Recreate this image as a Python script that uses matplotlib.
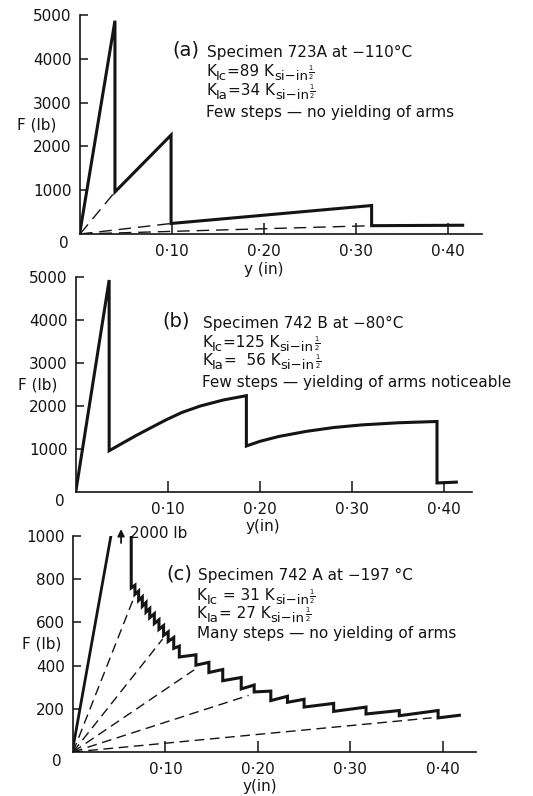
import matplotlib
matplotlib.use("agg")
import matplotlib.pyplot as plt

plt.rcParams['font.family'] = ['DejaVu Sans']
plt.rcParams['mathtext.fontset'] = 'dejavusans'
plt.rcParams['mathtext.default'] = 'regular'

W, H = 533, 796
INK = "#141414"

# (a) Specimen 723A at -110 C : load F (lb) against displacement y (in)
a_y = [0.0, 0.038, 0.038, 0.099, 0.099, 0.317, 0.317, 0.416]
a_F = [50, 4870, 960, 2260, 240, 650, 190, 200]
a_ray_y = [0.038, 0.099, 0.317]
a_ray_F = [960, 240, 190]
a_yticks = [1000, 2000, 3000, 4000, 5000]

# (b) Specimen 742B at -80 C
b_y = [0.0, 0.036, 0.036, 0.050, 0.065, 0.080, 0.098, 0.115, 0.135, 0.160, 0.185,
       0.185, 0.200, 0.220, 0.250, 0.280, 0.310, 0.350, 0.392, 0.392, 0.413]
b_F = [40, 4930, 960, 1130, 1310, 1480, 1680, 1850, 2000, 2140, 2240,
       1070, 1180, 1290, 1410, 1500, 1560, 1610, 1640, 210, 230]
b_yticks = [1000, 2000, 3000, 4000, 5000]

# (c) Specimen 742A at -197 C : first peak is off scale (2000 lb)
c_load_y = [0.0, 0.041]
c_load_F = [20, 1000]
c_drop_y = [0.063, 0.067, 0.071, 0.075, 0.079, 0.083, 0.088, 0.093, 0.098,
            0.103, 0.109, 0.115, 0.133, 0.147, 0.162, 0.182, 0.196, 0.214,
            0.232, 0.250, 0.282, 0.317, 0.353, 0.395]
c_peak_F = [1000, 772, 745, 718, 692, 664, 640, 612, 585,
            556, 530, 490, 450, 415, 382, 345, 310, 282,
            258, 244, 225, 208, 192, 192]
c_after_F = [760, 730, 702, 675, 648, 622, 595, 568, 540,
             512, 480, 440, 402, 368, 330, 292, 278, 238,
             230, 208, 188, 176, 168, 158]
c_end_y, c_end_F = 0.418, 170
c_ray_y = [0.065, 0.097, 0.131, 0.190, 0.388]
c_ray_F = [705, 523, 380, 262, 158]
c_yticks = [200, 400, 600, 800, 1000]

xticks = [0.10, 0.20, 0.30, 0.40]
xticklabels = ["0·10", "0·20", "0·30", "0·40"]

FS = 11
HALF = r"$\frac{1}{2}$"


def px_rect(left, top, right, bottom):
    return [left / W, 1 - bottom / H, (right - left) / W, (bottom - top) / H]


def fig_text(fig, x, y, s, size=FS):
    # x, y: left edge and baseline in pixels from the top-left corner
    return fig.text(x / W, 1 - y / H, s, ha="left", va="baseline", fontsize=size, color=INK)


def rich_text(fig, x, y, pieces):
    # pieces: (text, size, baseline shift in px); placed one after another
    r = fig.canvas.get_renderer()
    for s, size, dy in pieces:
        t = fig_text(fig, x, y + dy, s, size)
        x += t.get_window_extent(r).width


def k_line(fig, x, y, sub, value):
    rich_text(fig, x, y, [("K", FS, 0), (sub, 9.5, 4), (value + " K", FS, 0),
                          ("si−in", 9.5, 4), (HALF, 7, 0)])


def style_axes(ax, xmax, ymax, yticks, xlabel, ylabel_x, xlabel_x):
    ax.set_xlim(0, xmax)
    ax.set_ylim(0, ymax)
    for s in ["top", "right"]:
        ax.spines[s].set_visible(False)
    for s in ["bottom", "left"]:
        ax.spines[s].set_linewidth(1.2)
        ax.spines[s].set_color(INK)
    ax.set_xticks(xticks)
    ax.set_xticklabels(xticklabels)
    ax.set_yticks(yticks)
    ax.tick_params(axis="x", direction="in", length=8, width=1.1, pad=7,
                   labelsize=FS, colors=INK)
    ax.tick_params(axis="y", direction="in", length=6, width=1.1, pad=6,
                   labelsize=FS, colors=INK)
    ax.set_ylabel("F (lb)", rotation=0, ha="center", va="center", fontsize=FS, color=INK)
    ax.yaxis.set_label_coords(ylabel_x, 0.5)
    ax.set_xlabel(xlabel, va="center", fontsize=FS, color=INK)
    ax.xaxis.set_label_coords(xlabel_x, -0.16)
    ax.annotate("0", (0, 0), xycoords="axes fraction", xytext=(-12, -7),
                textcoords="offset points", ha="center", va="center",
                fontsize=FS, color=INK, annotation_clip=False)
    ax.patch.set_visible(False)


def sawtooth(drop_y, peak_F, after_F, end_y, end_F):
    xs, ys = [], []
    for x, p, a in zip(drop_y, peak_F, after_F):
        xs += [x, x]
        ys += [p, a]
    xs.append(end_y)
    ys.append(end_F)
    return xs, ys


fig = plt.figure(figsize=(W / 100, H / 100), dpi=100)
dash = (0, (9, 5))

# ---- (a)
ax = fig.add_axes(px_rect(80, 15, 482, 234))
ax.plot(a_y, a_F, color=INK, lw=2.2, solid_joinstyle="miter")
for x, f in zip(a_ray_y, a_ray_F):
    ax.plot([0, x], [0, f], color=INK, lw=1.0, ls=dash)
style_axes(ax, 0.437, 5000, a_yticks, "y (in)", -0.107, 0.458)
fig_text(fig, 172, 56, "(a)", size=14)
fig_text(fig, 207, 57, "Specimen 723A at −110°C")
k_line(fig, 206, 76, "Ic", "=89")
k_line(fig, 206, 95, "Ia", "=34")
fig_text(fig, 206, 117, "Few steps — no yielding of arms")

# ---- (b)
ax = fig.add_axes(px_rect(76, 277, 472, 492))
ax.plot(b_y, b_F, color=INK, lw=2.2, solid_joinstyle="miter")
style_axes(ax, 0.430, 5000, b_yticks, "y(in)", -0.098, 0.472)
fig_text(fig, 162, 326, "(b)", size=14)
fig_text(fig, 203, 328, "Specimen 742 B at −80°C")
k_line(fig, 202, 347, "Ic", "=125")
k_line(fig, 202, 365, "Ia", "=  56")
fig_text(fig, 202, 387, "Few steps — yielding of arms noticeable")

# ---- (c)
ax = fig.add_axes(px_rect(73, 536, 476, 752))
ax.plot(c_load_y, c_load_F, color=INK, lw=2.0)
sx, sy = sawtooth(c_drop_y, c_peak_F, c_after_F, c_end_y, c_end_F)
ax.plot(sx, sy, color=INK, lw=2.2, solid_joinstyle="miter")
for x, f in zip(c_ray_y, c_ray_F):
    ax.plot([0, x], [0, f], color=INK, lw=1.0, ls=(0, (7, 4)))
ax.annotate("", xy=(0.052, 1045), xytext=(0.052, 955),
            arrowprops=dict(arrowstyle="-|>", color=INK, lw=1.3, mutation_scale=10),
            annotation_clip=False)
ax.text(0.062, 1010, "2000 lb", ha="left", va="center", fontsize=FS, color=INK,
        clip_on=False)
style_axes(ax, 0.436, 1000, c_yticks, "y(in)", -0.077, 0.464)
fig_text(fig, 166, 580, "(c)", size=14)
fig_text(fig, 198, 580, "Specimen 742 A at −197 °C")
k_line(fig, 197, 600, "Ic", " = 31")
k_line(fig, 197, 618, "Ia", "= 27")
fig_text(fig, 197, 638, "Many steps — no yielding of arms")

fig.savefig("out.png", dpi=100, facecolor="white")
